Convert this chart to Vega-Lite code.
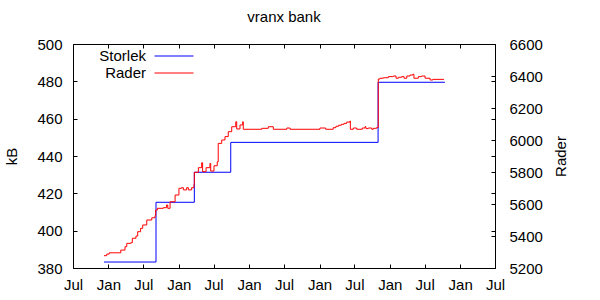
{
  "$schema": "https://vega.github.io/schema/vega-lite/v6.json",
  "width": 422,
  "height": 224,
  "autosize": {"type": "none"},
  "padding": {"left": 73, "top": 44, "right": 105, "bottom": 32},
  "background": "white",
  "title": {"text": "vranx bank", "fontSize": 15, "fontWeight": "normal", "font": "Liberation Sans", "color": "black", "anchor": "middle", "offset": 12},
  "config": {
    "view": {"stroke": "black", "strokeWidth": 1},
    "axis": {
      "labelFont": "Liberation Sans", "labelFontSize": 15, "labelColor": "black",
      "titleFont": "Liberation Sans", "titleFontSize": 15, "titleFontWeight": "normal", "titleColor": "black",
      "domain": false, "grid": false, "tickColor": "black", "tickSize": -4, "tickWidth": 1
    },
    "line": {"strokeWidth": 1}
  },
  "datasets": {
    "storlek": [
      {"date": "2009-12-09", "kB": 383.2, "series": "Storlek"},
      {"date": "2010-09-05", "kB": 415.2, "series": "Storlek"},
      {"date": "2011-03-23", "kB": 431.3, "series": "Storlek"},
      {"date": "2011-09-28", "kB": 447.3, "series": "Storlek"},
      {"date": "2013-11-01", "kB": 479.5, "series": "Storlek"},
      {"date": "2014-10-14", "kB": 479.5, "series": "Storlek"}
    ],
    "rader": [
      {"date": "2009-12-09", "rows": 5277, "series": "Rader"},
      {"date": "2009-12-23", "rows": 5287, "series": "Rader"},
      {"date": "2010-01-05", "rows": 5295, "series": "Rader"},
      {"date": "2010-03-02", "rows": 5295, "series": "Rader"},
      {"date": "2010-03-06", "rows": 5312, "series": "Rader"},
      {"date": "2010-03-28", "rows": 5333, "series": "Rader"},
      {"date": "2010-04-06", "rows": 5354, "series": "Rader"},
      {"date": "2010-04-27", "rows": 5358, "series": "Rader"},
      {"date": "2010-05-05", "rows": 5386, "series": "Rader"},
      {"date": "2010-05-24", "rows": 5400, "series": "Rader"},
      {"date": "2010-06-02", "rows": 5427, "series": "Rader"},
      {"date": "2010-06-17", "rows": 5448, "series": "Rader"},
      {"date": "2010-06-28", "rows": 5469, "series": "Rader"},
      {"date": "2010-07-19", "rows": 5500, "series": "Rader"},
      {"date": "2010-08-14", "rows": 5514, "series": "Rader"},
      {"date": "2010-08-31", "rows": 5527, "series": "Rader"},
      {"date": "2010-09-03", "rows": 5562, "series": "Rader"},
      {"date": "2010-09-12", "rows": 5573, "series": "Rader"},
      {"date": "2010-10-13", "rows": 5577, "series": "Rader"},
      {"date": "2010-10-30", "rows": 5594, "series": "Rader"},
      {"date": "2010-11-05", "rows": 5573, "series": "Rader"},
      {"date": "2010-11-17", "rows": 5614, "series": "Rader"},
      {"date": "2010-12-13", "rows": 5656, "series": "Rader"},
      {"date": "2011-01-02", "rows": 5698, "series": "Rader"},
      {"date": "2011-01-16", "rows": 5702, "series": "Rader"},
      {"date": "2011-01-25", "rows": 5688, "series": "Rader"},
      {"date": "2011-02-11", "rows": 5702, "series": "Rader"},
      {"date": "2011-02-20", "rows": 5688, "series": "Rader"},
      {"date": "2011-03-09", "rows": 5702, "series": "Rader"},
      {"date": "2011-03-21", "rows": 5723, "series": "Rader"},
      {"date": "2011-03-23", "rows": 5798, "series": "Rader"},
      {"date": "2011-04-13", "rows": 5827, "series": "Rader"},
      {"date": "2011-04-30", "rows": 5858, "series": "Rader"},
      {"date": "2011-05-05", "rows": 5802, "series": "Rader"},
      {"date": "2011-05-23", "rows": 5827, "series": "Rader"},
      {"date": "2011-06-12", "rows": 5854, "series": "Rader"},
      {"date": "2011-06-16", "rows": 5806, "series": "Rader"},
      {"date": "2011-07-03", "rows": 5839, "series": "Rader"},
      {"date": "2011-07-20", "rows": 5864, "series": "Rader"},
      {"date": "2011-07-25", "rows": 5979, "series": "Rader"},
      {"date": "2011-08-12", "rows": 6000, "series": "Rader"},
      {"date": "2011-08-29", "rows": 6021, "series": "Rader"},
      {"date": "2011-09-15", "rows": 6052, "series": "Rader"},
      {"date": "2011-10-03", "rows": 6083, "series": "Rader"},
      {"date": "2011-10-24", "rows": 6114, "series": "Rader"},
      {"date": "2011-10-29", "rows": 6069, "series": "Rader"},
      {"date": "2011-11-15", "rows": 6094, "series": "Rader"},
      {"date": "2011-11-29", "rows": 6114, "series": "Rader"},
      {"date": "2011-12-02", "rows": 6067, "series": "Rader"},
      {"date": "2012-03-03", "rows": 6067, "series": "Rader"},
      {"date": "2012-03-07", "rows": 6073, "series": "Rader"},
      {"date": "2012-04-10", "rows": 6083, "series": "Rader"},
      {"date": "2012-05-06", "rows": 6067, "series": "Rader"},
      {"date": "2012-07-15", "rows": 6075, "series": "Rader"},
      {"date": "2012-08-01", "rows": 6067, "series": "Rader"},
      {"date": "2013-01-03", "rows": 6075, "series": "Rader"},
      {"date": "2013-02-02", "rows": 6067, "series": "Rader"},
      {"date": "2013-03-13", "rows": 6077, "series": "Rader"},
      {"date": "2013-03-27", "rows": 6086, "series": "Rader"},
      {"date": "2013-04-10", "rows": 6092, "series": "Rader"},
      {"date": "2013-04-24", "rows": 6098, "series": "Rader"},
      {"date": "2013-05-08", "rows": 6104, "series": "Rader"},
      {"date": "2013-05-22", "rows": 6112, "series": "Rader"},
      {"date": "2013-06-08", "rows": 6119, "series": "Rader"},
      {"date": "2013-06-10", "rows": 6067, "series": "Rader"},
      {"date": "2013-06-25", "rows": 6075, "series": "Rader"},
      {"date": "2013-07-13", "rows": 6067, "series": "Rader"},
      {"date": "2013-08-11", "rows": 6075, "series": "Rader"},
      {"date": "2013-08-25", "rows": 6083, "series": "Rader"},
      {"date": "2013-08-30", "rows": 6071, "series": "Rader"},
      {"date": "2013-09-11", "rows": 6075, "series": "Rader"},
      {"date": "2013-09-29", "rows": 6067, "series": "Rader"},
      {"date": "2013-10-07", "rows": 6073, "series": "Rader"},
      {"date": "2013-10-25", "rows": 6079, "series": "Rader"},
      {"date": "2013-11-02", "rows": 6381, "series": "Rader"},
      {"date": "2013-11-11", "rows": 6386, "series": "Rader"},
      {"date": "2013-11-28", "rows": 6389, "series": "Rader"},
      {"date": "2013-12-24", "rows": 6396, "series": "Rader"},
      {"date": "2014-01-19", "rows": 6400, "series": "Rader"},
      {"date": "2014-02-02", "rows": 6386, "series": "Rader"},
      {"date": "2014-02-14", "rows": 6392, "series": "Rader"},
      {"date": "2014-03-04", "rows": 6396, "series": "Rader"},
      {"date": "2014-03-16", "rows": 6386, "series": "Rader"},
      {"date": "2014-03-30", "rows": 6400, "series": "Rader"},
      {"date": "2014-04-16", "rows": 6406, "series": "Rader"},
      {"date": "2014-04-30", "rows": 6411, "series": "Rader"},
      {"date": "2014-05-06", "rows": 6386, "series": "Rader"},
      {"date": "2014-05-29", "rows": 6396, "series": "Rader"},
      {"date": "2014-06-15", "rows": 6400, "series": "Rader"},
      {"date": "2014-07-03", "rows": 6386, "series": "Rader"},
      {"date": "2014-07-29", "rows": 6375, "series": "Rader"},
      {"date": "2014-08-12", "rows": 6379, "series": "Rader"},
      {"date": "2014-10-09", "rows": 6379, "series": "Rader"}
    ]
  },
  "layer": [
    {
      "data": {"name": "storlek"},
      "mark": {"type": "line", "interpolate": "step-after", "strokeWidth": 1},
      "encoding": {
        "x": {
          "field": "date", "type": "temporal",
          "scale": {"type": "utc", "domain": [{"year": 2009, "month": 7, "date": 1, "utc": true}, {"year": 2015, "month": 7, "date": 1, "utc": true}]},
          "axis": {"orient": "bottom", "format": "%b", "tickCount": {"interval": "month", "step": 6}, "labelPadding": 13, "labelFlush": false, "labelOverlap": false, "title": null}
        },
        "y": {
          "field": "kB", "type": "quantitative",
          "scale": {"domain": [380, 500], "nice": false, "zero": false},
          "axis": {"orient": "left", "values": [380, 400, 420, 440, 460, 480, 500], "labelPadding": 15, "title": "kB", "titlePadding": 17}
        },
        "color": {
          "field": "series", "type": "nominal",
          "scale": {"domain": ["Storlek", "Rader"], "range": ["#0000ff", "#ff0000"]},
          "legend": {
            "orient": "none", "legendX": 93, "legendY": 4, "title": null, "padding": 0,
            "symbolType": "M-2.6,0H2.6", "symbolSize": 225, "symbolStrokeWidth": 1,
            "labelAlign": "right", "labelOffset": -36, "labelFont": "Liberation Sans", "labelFontSize": 15, "labelColor": "black",
            "rowPadding": 1
          }
        }
      }
    },
    {
      "data": {"name": "rader"},
      "mark": {"type": "line", "interpolate": "step-after", "strokeWidth": 1},
      "encoding": {
        "x": {"field": "date", "type": "temporal", "axis": null},
        "y": {
          "field": "rows", "type": "quantitative",
          "scale": {"domain": [5200, 6600], "nice": false, "zero": false},
          "axis": {"orient": "right", "format": "d", "values": [5200, 5400, 5600, 5800, 6000, 6200, 6400, 6600], "labelPadding": 18, "title": "Rader", "titleAngle": 270, "titleBaseline": "top", "titlePadding": 11}
        },
        "color": {"field": "series", "type": "nominal"}
      }
    },
    {
      "data": {"name": "storlek"},
      "mark": {"type": "line", "strokeOpacity": 0},
      "encoding": {
        "x": {"field": "date", "type": "temporal", "axis": {"orient": "top", "labels": false, "tickCount": {"interval": "month", "step": 6}, "title": null}},
        "y": {
          "field": "kB", "type": "quantitative",
          "scale": {"domain": [380, 500], "nice": false, "zero": false},
          "axis": {"orient": "right", "labels": false, "values": [380, 400, 420, 440, 460, 480, 500], "title": null}
        }
      }
    }
  ],
  "resolve": {"scale": {"y": "independent"}, "axis": {"x": "independent", "y": "independent"}}
}
